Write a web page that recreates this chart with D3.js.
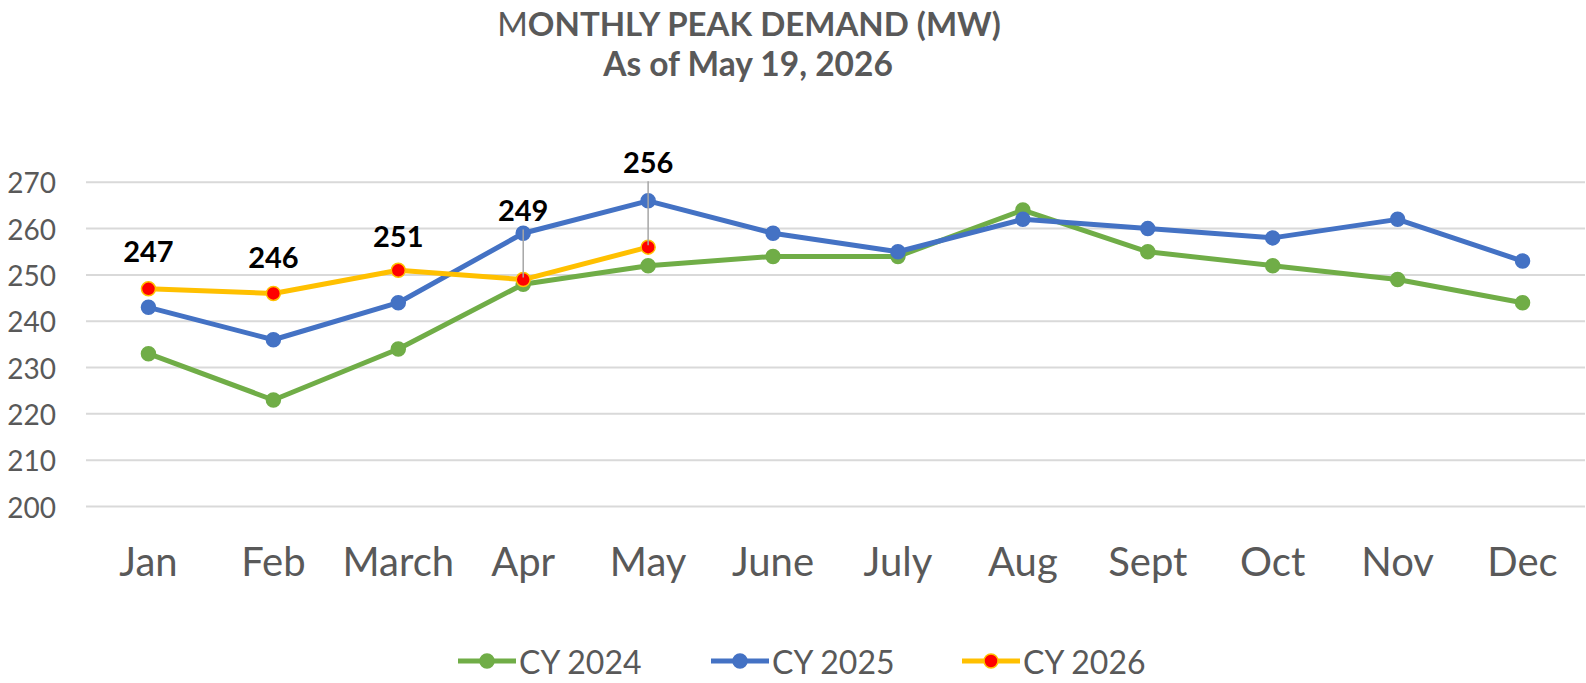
<html>
<head>
<script src="https://d3js.org/d3.v7.min.js"></script>
<style>
  body { margin: 0; background: #fff; }
  text { font-family: Lato, "Open Sans", sans-serif; }
</style>
</head>
<body>
<script>
  // chart data
  let months = ["Jan", "Feb", "March", "Apr", "May", "June", "July", "Aug", "Sept", "Oct", "Nov", "Dec"];
  let cy2024 = [233, 223, 234, 248, 252, 254, 254, 264, 255, 252, 249, 244];
  let cy2025 = [243, 236, 244, 259, 266, 259, 255, 262, 260, 258, 262, 253];
  let cy2026 = [247, 246, 251, 249, 256];
  let yTicks = [200, 210, 220, 230, 240, 250, 260, 270];
  let seriesNames = ["CY 2024", "CY 2025", "CY 2026"];

  let width = 1586, height = 683;
  let grey = "#595959";

  let svg = d3.select("body").append("svg")
      .attr("width", width)
      .attr("height", height);

  let x = d3.scalePoint()
      .domain(months)
      .range([86, 1585])
      .padding(0.5);

  let y = d3.scaleLinear()
      .domain([200, 270])
      .range([506.5, 182.3]);

  // title
  let t1 = svg.append("text")
      .attr("x", 749).attr("y", 36)
      .attr("text-anchor", "middle")
      .attr("fill", grey)
      .attr("font-size", 33)
      .attr("font-weight", "bold");
  t1.append("tspan").attr("font-weight", "normal").text("M");
  t1.append("tspan").text("ONTHLY PEAK DEMAND (MW)");

  svg.append("text")
      .attr("x", 748).attr("y", 76)
      .attr("text-anchor", "middle")
      .attr("fill", grey)
      .attr("font-size", 33.5)
      .attr("font-weight", "bold")
      .text("As of May 19, 2026");

  // gridlines
  yTicks.forEach(t =>
    svg.append("line")
      .attr("x1", 86).attr("x2", 1585)
      .attr("y1", y(t)).attr("y2", y(t))
      .attr("stroke", "#d9d9d9")
      .attr("stroke-width", 2)
  );

  // y axis labels
  yTicks.forEach(t =>
    svg.append("text")
      .attr("x", 56).attr("y", y(t))
      .attr("text-anchor", "end")
      .attr("dominant-baseline", "central")
      .attr("fill", grey)
      .attr("font-size", 28)
      .text(t)
  );

  // x axis labels
  months.forEach(m =>
    svg.append("text")
      .attr("x", x(m)).attr("y", 561)
      .attr("text-anchor", "middle")
      .attr("dominant-baseline", "central")
      .attr("fill", grey)
      .attr("font-size", 40)
      .text(m)
  );

  let line = d3.line()
      .x((d, i) => x(months[i]))
      .y(d => y(d));

  function drawSeries(values, color, markerFill) {
    svg.append("path")
      .datum(values)
      .attr("d", line)
      .attr("fill", "none")
      .attr("stroke", color)
      .attr("stroke-width", 5)
      .attr("stroke-linejoin", "round");

    values.forEach((v, i) =>
      svg.append("circle")
        .attr("cx", x(months[i]))
        .attr("cy", y(v))
        .attr("r", 7)
        .attr("fill", markerFill)
        .attr("stroke", color)
        .attr("stroke-width", 1.5)
    );
  }

  drawSeries(cy2024, "#70ad47", "#70ad47");
  drawSeries(cy2025, "#4472c4", "#4472c4");
  drawSeries(cy2026, "#ffc000", "#ff0000");

  // data labels for CY 2026 (pixel lift above the point)
  let labelLift = [38, 37, 35, 70, 86];
  cy2026.forEach((v, i) => {
    let px = x(months[i]);
    let py = y(v);
    let ly = py - labelLift[i];
    if (labelLift[i] > 50) {
      svg.append("line")
        .attr("x1", px).attr("x2", px)
        .attr("y1", ly + 20).attr("y2", py - 2)
        .attr("stroke", "#a6a6a6")
        .attr("stroke-width", 1.5);
    }
    svg.append("text")
      .attr("x", px).attr("y", ly)
      .attr("text-anchor", "middle")
      .attr("dominant-baseline", "central")
      .attr("fill", "#000")
      .attr("font-size", 29)
      .attr("font-weight", "bold")
      .text(v);
  });

  // legend
  let legendX = [458, 711, 962];
  let legendColors = ["#70ad47", "#4472c4", "#ffc000"];
  let legendFill = ["#70ad47", "#4472c4", "#ff0000"];
  let legendY = 661;
  seriesNames.forEach((name, i) => {
    let lx = legendX[i];
    svg.append("line")
      .attr("x1", lx).attr("x2", lx + 58)
      .attr("y1", legendY).attr("y2", legendY)
      .attr("stroke", legendColors[i])
      .attr("stroke-width", 5);
    svg.append("circle")
      .attr("cx", lx + 29).attr("cy", legendY)
      .attr("r", 7)
      .attr("fill", legendFill[i])
      .attr("stroke", legendColors[i])
      .attr("stroke-width", 1.5);
    svg.append("text")
      .attr("x", lx + 61).attr("y", legendY)
      .attr("dominant-baseline", "central")
      .attr("fill", grey)
      .attr("font-size", 32)
      .text(name);
  });
</script>
</body>
</html>
